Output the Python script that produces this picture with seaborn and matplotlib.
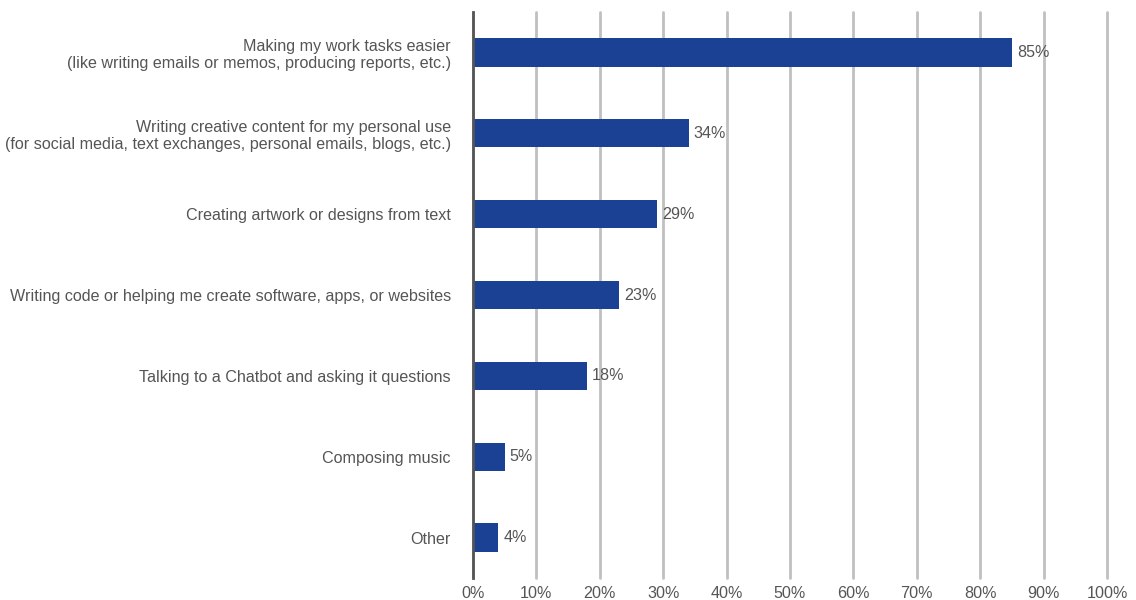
import matplotlib
matplotlib.use('Agg')
import matplotlib.pyplot as plt
import seaborn as sns
import pandas as pd

# Data
categories = [
    'Making my work tasks easier\n(like writing emails or memos, producing reports, etc.)',
    'Writing creative content for my personal use\n(for social media, text exchanges, personal emails, blogs, etc.)',
    'Creating artwork or designs from text',
    'Writing code or helping me create software, apps, or websites',
    'Talking to a Chatbot and asking it questions',
    'Composing music',
    'Other',
]
values = [85, 34, 29, 23, 18, 5, 4]
x_ticks = [0, 10, 20, 30, 40, 50, 60, 70, 80, 90, 100]

df = pd.DataFrame({'category': categories, 'value': values})

sns.set_style('white')
plt.rcParams['font.family'] = ['Liberation Sans', 'DejaVu Sans']

fig = plt.figure(figsize=(11.36, 6), dpi=100)
ax = fig.add_axes([473 / 1136, 1 - 578 / 600, (1107 - 473) / 1136, (578 - 12) / 600])

sns.barplot(data=df, x='value', y='category', color='#1a4194', width=0.35,
            saturation=1, linewidth=0, ax=ax, zorder=3)

# value labels next to the bars
for i, v in enumerate(values):
    ax.text(v + 0.8, i, f'{v}%', va='center', ha='left', fontsize=11.6, color='#555555')

ax.set_xlim(0, 100)
ax.set_ylim(6.5, -0.5)
ax.set_xticks(x_ticks)
ax.set_xticklabels([f'{t}%' for t in x_ticks])
ax.xaxis.grid(True, color='#c0c0c0', linewidth=2, zorder=0)
for gl in ax.get_xgridlines():
    gl.set_clip_on(False)
ax.yaxis.grid(False)
ax.tick_params(axis='both', length=0, labelsize=11.6, labelcolor='#555555')
ax.tick_params(axis='y', pad=16)
ax.tick_params(axis='x', pad=6)
ax.set_xlabel('')
ax.set_ylabel('')
for lbl in ax.get_yticklabels():
    lbl.set_horizontalalignment('right')
    lbl.set_multialignment('right')
    lbl.set_linespacing(1.2)

for s in ['top', 'right', 'bottom']:
    ax.spines[s].set_visible(False)
ax.spines['left'].set_color('#555555')
ax.spines['left'].set_linewidth(2)
ax.spines['left'].set_zorder(4)

fig.savefig('out.png', dpi=100)
